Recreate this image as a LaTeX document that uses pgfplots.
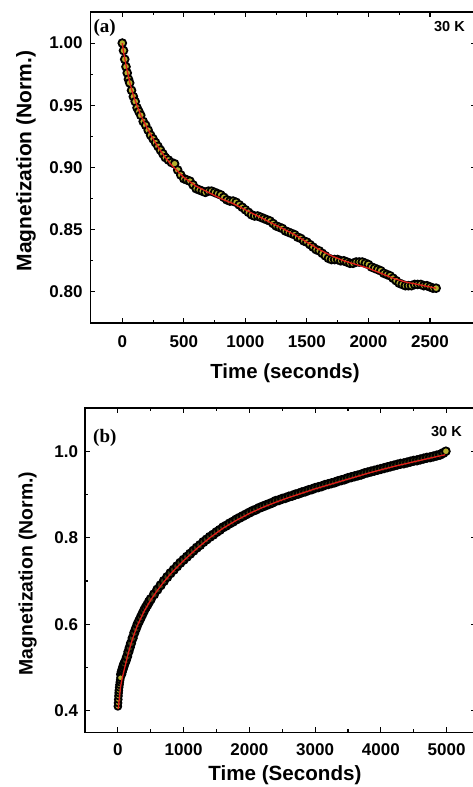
\documentclass[border=0pt]{standalone}
\usepackage{pgfplots}
\pgfplotsset{compat=1.18}
\usepackage{pgfplotstable}
\usepackage{fontspec}
\setmainfont{Liberation Sans}
\newfontfamily\timesfont{Liberation Serif}
\definecolor{mfillA}{RGB}{180,175,45}
\definecolor{mfillB}{RGB}{60,60,20}
\definecolor{fitred}{RGB}{225,30,25}

\pgfplotstableread{
t M
0 1.000
10 0.994
20 0.987
30 0.981
40 0.976
50 0.971
60 0.968
75 0.962
90 0.957
105 0.953
120 0.948
135 0.945
150 0.942
170 0.937
190 0.934
210 0.930
230 0.926
250 0.923
270 0.920
290 0.917
310 0.914
330 0.911
350 0.908
375 0.906
400 0.904
425 0.903
450 0.898
475 0.894
500 0.891
525 0.890
550 0.889
575 0.886
600 0.883
625 0.882
650 0.881
675 0.880
700 0.881
725 0.881
750 0.880
775 0.879
800 0.878
825 0.876
850 0.874
875 0.873
900 0.873
925 0.872
950 0.870
975 0.868
1000 0.866
1025 0.864
1050 0.862
1075 0.861
1100 0.861
1125 0.860
1150 0.859
1175 0.858
1200 0.857
1225 0.855
1250 0.853
1275 0.852
1300 0.851
1325 0.849
1350 0.848
1375 0.847
1400 0.846
1425 0.844
1450 0.843
1475 0.841
1500 0.840
1525 0.838
1550 0.836
1575 0.834
1600 0.833
1625 0.831
1650 0.829
1675 0.827
1700 0.826
1725 0.826
1750 0.826
1775 0.825
1800 0.825
1825 0.824
1850 0.823
1875 0.823
1900 0.824
1925 0.824
1950 0.824
1975 0.823
2000 0.822
2025 0.820
2050 0.819
2075 0.818
2100 0.817
2125 0.815
2150 0.814
2175 0.813
2200 0.811
2225 0.809
2250 0.807
2275 0.806
2300 0.805
2325 0.805
2350 0.805
2375 0.806
2400 0.806
2425 0.806
2450 0.805
2475 0.805
2500 0.804
2525 0.803
2550 0.803
}\dataA

\pgfplotstableread{
t M
0 1.000
10 0.993
25 0.985
50 0.973
75 0.963
100 0.955
150 0.942
200 0.932
250 0.923
300 0.915
350 0.908
400 0.902
450 0.897
500 0.892
600 0.885
700 0.880
800 0.875
900 0.871
1000 0.866
1100 0.861
1200 0.856
1300 0.851
1400 0.846
1500 0.840
1600 0.834
1700 0.829
1800 0.825
1900 0.822
2000 0.819
2100 0.815
2200 0.811
2300 0.808
2400 0.806
2500 0.804
2550 0.803
}\fitA

\pgfplotstableread{
t M
0 0.410
3 0.418
6 0.426
9 0.434
12 0.441
15 0.447
20 0.454
25 0.460
30 0.466
35 0.471
40 0.476
}\firstB

\pgfplotstableread{
t M
50 0.484
60 0.490
70 0.495
80 0.500
90 0.505
100 0.509
120 0.516
140 0.525
160 0.536
180 0.546
200 0.556
225 0.568
250 0.580
275 0.590
300 0.600
325 0.608
350 0.616
375 0.624
400 0.632
425 0.639
450 0.645
475 0.652
500 0.658
550 0.669
600 0.680
650 0.690
700 0.700
750 0.709
800 0.718
850 0.726
900 0.734
950 0.742
1000 0.749
1050 0.756
1100 0.763
1150 0.770
1200 0.777
1250 0.783
1300 0.790
1350 0.796
1400 0.802
1450 0.807
1500 0.813
1550 0.818
1600 0.824
1650 0.828
1700 0.833
1750 0.837
1800 0.842
1850 0.846
1900 0.850
1950 0.854
2000 0.858
2050 0.862
2100 0.865
2150 0.869
2200 0.872
2250 0.875
2300 0.878
2350 0.881
2400 0.885
2450 0.887
2500 0.890
2550 0.892
2600 0.895
2650 0.897
2700 0.900
2750 0.902
2800 0.905
2850 0.907
2900 0.910
2950 0.912
3000 0.915
3050 0.917
3100 0.919
3150 0.922
3200 0.924
3250 0.926
3300 0.928
3350 0.931
3400 0.933
3450 0.935
3500 0.938
3550 0.940
3600 0.942
3650 0.944
3700 0.946
3750 0.949
3800 0.951
3850 0.953
3900 0.955
3950 0.957
4000 0.959
4050 0.961
4100 0.963
4150 0.965
4200 0.967
4250 0.969
4300 0.971
4350 0.972
4400 0.974
4450 0.976
4500 0.978
4550 0.979
4600 0.981
4650 0.983
4700 0.985
4750 0.986
4800 0.988
4850 0.990
4900 0.992
4950 0.996
}\dataB

\pgfplotstableread{
t M
4990 1.000
}\lastB

\pgfplotstableread{
t M
5 0.404
20 0.425
40 0.455
70 0.478
100 0.497
150 0.528
200 0.555
250 0.578
300 0.598
400 0.630
500 0.656
600 0.678
700 0.698
800 0.716
900 0.732
1000 0.747
1200 0.775
1400 0.800
1600 0.822
1800 0.840
2000 0.856
2200 0.870
2400 0.882
2600 0.893
2800 0.903
3000 0.913
3200 0.922
3400 0.931
3600 0.940
3800 0.949
4000 0.957
4200 0.965
4400 0.972
4600 0.979
4800 0.986
4980 0.992
}\fitB

\pgfplotsset{
  myaxis/.style={
    scale only axis,
    axis line style={line width=1.3pt},
    major tick length=5pt,
    minor tick length=3pt,
    every tick/.style={black, line width=1.1pt},
    /pgf/number format/assume math mode=true,
    ticklabel style={font=\fontsize{17}{17}\selectfont\bfseries},
    minor x tick num=1,
    minor y tick num=1,
    clip=true,
    clip marker paths=true,
  },
  datamarkA/.style={only marks, mark=*, mark size=3.9pt,
    mark options={draw=black, line width=1.8pt, fill=mfillA}},
  datamarkB/.style={only marks, mark=*, mark size=4.1pt,
    mark options={draw=black, line width=2pt, fill=mfillB}},
  fitline/.style={no marks, fitred, line width=1.3pt},
}

\begin{document}
\begin{tikzpicture}
\path[use as bounding box] (0,0) rectangle (473pt,787pt);
\begin{axis}[myaxis,
  at={(90.3pt,464pt)}, anchor=south west,
  width=385.2pt, height=311pt,
  xmin=-260, xmax=2870, ymin=0.775, ymax=1.025,
  xtick={0,500,1000,1500,2000,2500},
  ytick={0.8,0.85,0.9,0.95,1.0},
  xticklabel style={inner sep=0pt, yshift=-12pt, /pgf/number format/1000 sep={}},
  yticklabel style={inner sep=0pt, xshift=-7.6pt, /pgf/number format/.cd, fixed, fixed zerofill, precision=2},
  xlabel={Time (seconds)},
  ylabel={Magnetization (Norm.)},
  xlabel style={at={(axis description cs:0.5055,-0.161)}, anchor=center, inner sep=0pt, font=\fontsize{20.4}{20}\selectfont\bfseries},
  ylabel style={at={(axis description cs:-0.167,0.521)}, anchor=center, inner sep=0pt, font=\fontsize{21}{21}\selectfont\bfseries},
]
\addplot[datamarkA] table[x=t, y=M] {\dataA};
\addplot[fitline] table[x=t, y=M] {\fitA};
\node[anchor=west, inner sep=0pt, font={\timesfont\fontsize{19}{19}\selectfont\bfseries}] at (rel axis cs:0.0078,0.9486) {(a)};
\node[anchor=east, inner sep=0pt, font={\fontsize{14.5}{14.5}\selectfont\bfseries}] at (rel axis cs:0.9727,0.9527) {30 K};
\end{axis}

\begin{axis}[myaxis,
  at={(85pt,54.7pt)}, anchor=south west,
  width=390.5pt, height=324.3pt,
  xmin=-500, xmax=5440, ymin=0.35, ymax=1.1,
  xtick={0,1000,2000,3000,4000,5000},
  ytick={0.4,0.6,0.8,1.0},
  xticklabel style={inner sep=0pt, yshift=-10.7pt, /pgf/number format/1000 sep={}},
  yticklabel style={inner sep=0pt, xshift=-6.7pt, /pgf/number format/.cd, fixed, fixed zerofill, precision=1},
  xlabel={Time (Seconds)},
  ylabel={Magnetization (Norm.)},
  xlabel style={at={(axis description cs:0.512,-0.1317)}, anchor=center, inner sep=0pt, font=\fontsize{20.6}{20}\selectfont\bfseries},
  ylabel style={at={(axis description cs:-0.147,0.490)}, anchor=center, inner sep=0pt, font=\fontsize{19.4}{19}\selectfont\bfseries},
]
\addplot[datamarkB] table[x=t, y=M] {\dataB};
\addplot[datamarkA, mark size=3.4pt] table[x=t, y=M] {\firstB};
\addplot[datamarkA] table[x=t, y=M] {\lastB};
\addplot[fitline] table[x=t, y=M] {\fitB};
\node[anchor=west, inner sep=0pt, font={\timesfont\fontsize{19}{19}\selectfont\bfseries}] at (rel axis cs:0.0205,0.909) {(b)};
\node[anchor=east, inner sep=0pt, font={\fontsize{14.5}{14.5}\selectfont\bfseries}] at (rel axis cs:0.9654,0.927) {30 K};
\end{axis}
\end{tikzpicture}
\end{document}
